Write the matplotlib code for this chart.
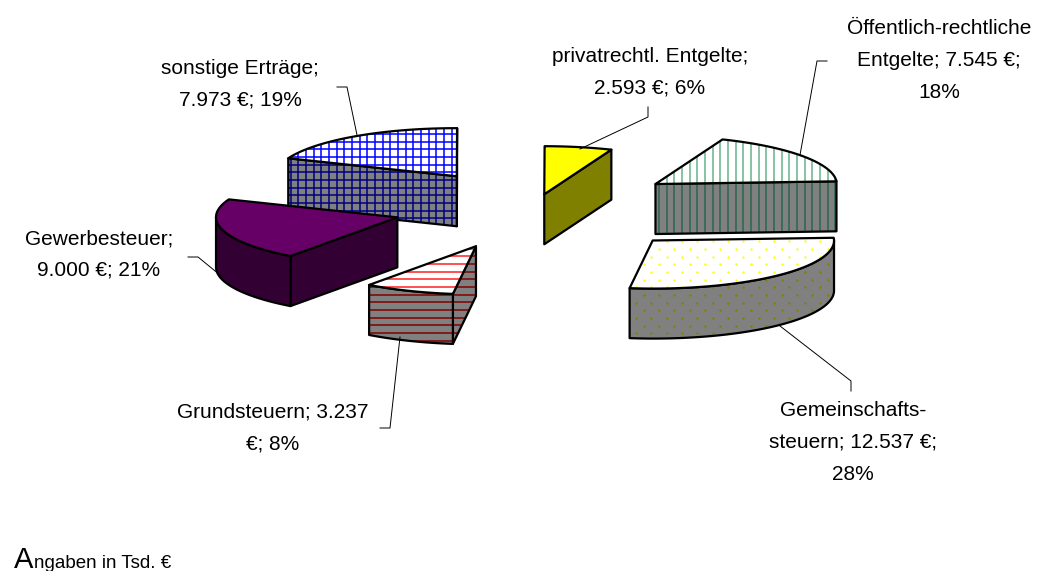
import numpy as np
import matplotlib
matplotlib.use('Agg')
import matplotlib.pyplot as plt
from matplotlib.patches import Polygon

plt.rcParams['font.family'] = ['Liberation Sans', 'DejaVu Sans']

# data, clockwise starting at 3 o'clock
names = ['Gemeinschaftssteuern', 'Grundsteuern', 'Gewerbesteuer', 'sonstige Erträge',
         'privatrechtl. Entgelte', 'Öffentlich-rechtliche Entgelte']
values = [12537, 3237, 9000, 7973, 2593, 7545]
shares = [28, 8, 21, 19, 6, 18]

labels = [
    ['Gemeinschafts-', 'steuern; 12.537 €;', '28%'],
    ['Grundsteuern; 3.237', '€; 8%'],
    ['Gewerbesteuer;', '9.000 €; 21%'],
    ['sonstige Erträge;', '7.973 €; 19%'],
    ['privatrechtl. Entgelte;', '2.593 €; 6%'],
    ['Öffentlich-rechtliche', 'Entgelte; 7.545 €;', '18%'],
]

# layout of the pie, in pixels of the figure
center = (535, 207)
rx, ry = 181, 48
depth = 50
shear, tilt = 0.23, 0.015
explode = [0.95, 0.88, 0.79, 0.77, 0.27, 0.82]
draw_order = [3, 4, 5, 0, 2, 1]

# top colour, wall colour, pattern, pattern colour on top, pattern colour on wall
styles = [
    ('#ffffff', '#808080', 'dots', '#ffff00', '#808000'),
    ('#ffffff', '#808080', 'hlines', '#ff2020', '#800000'),
    ('#660066', '#330033', None, None, None),
    ('#ffffff', '#808080', 'grid', '#0000ff', '#000080'),
    ('#ffff00', '#808000', None, None, None),
    ('#ffffff', '#808080', 'vlines', '#66b38c', '#2a6650'),
]

# label anchors and leader lines
label_x = [853, 273, 99, 240, 650, 939]
label_y = [411, 412, 239, 69, 56, 29]
line_step = 31.5
leaders = [
    [(851, 391), (851, 381), (780, 326)],
    [(380, 428), (390, 428), (400, 337)],
    [(188, 257), (198, 257), (220, 275)],
    [(337, 87), (347, 87), (357, 135)],
    [(648, 107), (648, 117), (580, 149)],
    [(827, 61), (817, 61), (800, 155)],
]

fig = plt.figure(figsize=(10.5, 5.71), dpi=100)
ax = fig.add_axes([0, 0, 1, 1])
ax.set_xlim(0, 1050)
ax.set_ylim(571, 0)
ax.axis('off')


def plane(t, scale=1.0):
    # angle on the pie -> offset on screen
    t = np.radians(t)
    x = rx * np.cos(t) - shear * ry * np.sin(t)
    y = -ry * np.sin(t) - tilt * rx * np.cos(t)
    return x * scale, y * scale


def add_pattern(patch, kind, color):
    step = 7.67
    if kind == 'vlines' or kind == 'grid':
        phase = 666.7 if kind == 'vlines' else 451.7
        xs = phase + step * np.arange(-100, 100)
        col = ax.vlines(xs, 0, 571, color=color, lw=1.1, zorder=patch.get_zorder())
        col.set_clip_path(patch)
    if kind == 'hlines' or kind == 'grid':
        phase = 264 if kind == 'hlines' else 141.7
        ys = phase + step * np.arange(-60, 60)
        col = ax.hlines(ys, 0, 1050, color=color, lw=1.1, zorder=patch.get_zorder())
        col.set_clip_path(patch)
    if kind == 'dots':
        xs, ys = [], []
        for i in range(-20, 40):
            for j in range(-10, 30):
                xs.append(666.7 + 2 * step * j + (i % 2) * step)
                ys.append(256.7 + step * i)
        col = ax.scatter(xs, ys, s=3, color=color, linewidths=0, zorder=patch.get_zorder())
        col.set_clip_path(patch)


def add_face(pts, fill, kind, color, z):
    face = Polygon(pts, closed=True, facecolor=fill, edgecolor='none', zorder=z)
    ax.add_patch(face)
    if kind:
        add_pattern(face, kind, color)
    ax.add_patch(Polygon(pts, closed=True, facecolor='none', edgecolor='black',
                         lw=1.6, joinstyle='round', zorder=z))


# angles of the slices
ends = 360 - np.cumsum([0] + shares[:-1]) * 3.6
starts = ends - np.array(shares) * 3.6

# silhouette of the pie, the outer wall is only seen between these two angles
left_t = 180 - np.degrees(np.arctan2(shear * ry, rx))
right_t = 360 - np.degrees(np.arctan2(shear * ry, rx))

z = 2
for i in draw_order:
    t0, t1 = starts[i], ends[i]
    mid = (t0 + t1) / 2
    dx, dy = plane(mid, explode[i])
    ax0, ay0 = center[0] + dx, center[1] + dy
    top, wall, kind, c_top, c_wall = styles[i]

    arc_t = np.linspace(t0, t1, 80)
    arc_x, arc_y = plane(arc_t)
    arc = np.column_stack([ax0 + arc_x, ay0 + arc_y])
    inner = plane(mid, 0.6)

    # flat walls along the two radii
    for t in (t0, t1):
        ex, ey = plane(t)
        side = ex * inner[1] - ey * inner[0]
        if side * ex < 0:
            pts = [(ax0, ay0), (ax0 + ex, ay0 + ey),
                   (ax0 + ex, ay0 + ey + depth), (ax0, ay0 + depth)]
            add_face(pts, wall, kind, c_wall, z)
            z += 1

    # outer wall
    lo, hi = max(t0, left_t), min(t1, right_t)
    if hi > lo:
        wt = np.linspace(lo, hi, 80)
        wx, wy = plane(wt)
        up = np.column_stack([ax0 + wx, ay0 + wy])
        down = up[::-1] + [0, depth]
        add_face(np.vstack([up, down]), wall, kind, c_wall, z)
        z += 1

    # top of the slice
    add_face(np.vstack([[ax0, ay0], arc]), top, kind, c_top, z)
    z += 1

# leader lines
for pts in leaders:
    xs = [p[0] for p in pts]
    ys = [p[1] for p in pts]
    ax.plot(xs, ys, color='black', lw=0.7, zorder=z + 1)

# data labels
for i in range(len(labels)):
    for n, line in enumerate(labels[i]):
        ax.text(label_x[i], label_y[i] + n * line_step, line, ha='center', va='center',
                fontsize=15, color='black', zorder=z + 2)

# note at the bottom
ax.text(14, 568, 'A', fontsize=21, ha='left', va='baseline')
ax.text(34, 568, 'ngaben in Tsd. €', fontsize=13.5, ha='left', va='baseline')

fig.savefig('out.png', dpi=100)
